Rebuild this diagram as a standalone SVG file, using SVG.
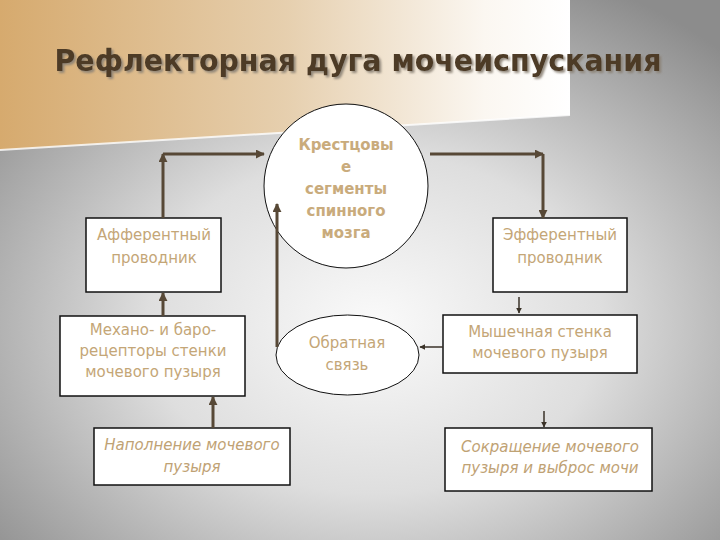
<svg xmlns="http://www.w3.org/2000/svg" width="720" height="540" viewBox="0 0 720 540">
<defs>
<radialGradient id="bg" cx="0.52" cy="0.6" r="0.7">
<stop offset="0" stop-color="#fafafa"/>
<stop offset="0.45" stop-color="#dedede"/>
<stop offset="1" stop-color="#8c8c8c"/>
</radialGradient>
<linearGradient id="band" x1="0" y1="0" x2="570" y2="0" gradientUnits="userSpaceOnUse">
<stop offset="0" stop-color="#d6aa6e"/>
<stop offset="0.5" stop-color="#e6cfae"/>
<stop offset="0.85" stop-color="#fbf7f1"/>
<stop offset="1" stop-color="#ffffff"/>
</linearGradient>
<filter id="sh" x="-5%" y="-30%" width="110%" height="160%">
<feDropShadow dx="2" dy="2" stdDeviation="0.8" flood-color="#8a8176" flood-opacity="0.9"/>
</filter>
<marker id="ah" viewBox="0 0 10 10" refX="9" refY="5" markerWidth="9" markerHeight="9" markerUnits="userSpaceOnUse" orient="auto">
<path d="M0,0 L10,5 L0,10 z" fill="#574836"/>
</marker>
<marker id="ahs" viewBox="0 0 10 10" refX="9" refY="5" markerWidth="6" markerHeight="6" markerUnits="userSpaceOnUse" orient="auto">
<path d="M0,0 L10,5 L0,10 z" fill="#3a3228"/>
</marker>
</defs>
<style>
.box{fill:#ffffff;stroke:#111111;stroke-width:1.5}
.ell{fill:#ffffff;stroke:#111111;stroke-width:1}
.t{font-family:"DejaVu Sans","Liberation Sans",sans-serif;font-size:15px;fill:#c4a677;text-anchor:middle}
.tb{font-family:"DejaVu Sans","Liberation Sans",sans-serif;font-size:15px;font-weight:bold;fill:#c9ab7c;text-anchor:middle}
.ti{font-family:"DejaVu Sans","Liberation Sans",sans-serif;font-size:15px;font-style:italic;fill:#bfa274;text-anchor:middle}
.c{fill:none;stroke:#574836;stroke-width:3}
.cs{fill:none;stroke:#3a3228;stroke-width:1.5}
</style>
<rect x="0" y="0" width="720" height="540" fill="url(#bg)"/>
<polygon points="0,0 570,0 570,115 0,150" fill="url(#band)"/>
<line x1="0" y1="150" x2="570" y2="115" stroke="#ffffff" stroke-width="2" opacity="0.8"/>
<g id="title">
<text x="358" y="71" font-family="DejaVu Sans, Liberation Sans, sans-serif" font-size="30" font-weight="bold" fill="#4d3b25" text-anchor="middle" textLength="607" lengthAdjust="spacingAndGlyphs" filter="url(#sh)">Рефлекторная дуга мочеиспускания</text>
</g>
<g id="spinal">
<circle class="ell" cx="346" cy="186" r="82"/>
<text class="tb" x="346" y="150">Крестцовы</text>
<text class="tb" x="346" y="172">е</text>
<text class="tb" x="346" y="194">сегменты</text>
<text class="tb" x="346" y="216">спинного</text>
<text class="tb" x="346" y="238">мозга</text>
</g>
<g id="afferent">
<rect class="box" x="86" y="218" width="135" height="74"/>
<text class="t" x="154" y="240">Афферентный</text>
<text class="t" x="154" y="263">проводник</text>
</g>
<g id="receptors">
<rect class="box" x="60" y="316" width="185" height="80"/>
<text class="t" x="153" y="335">Механо- и баро-</text>
<text class="t" x="153" y="356">рецепторы стенки</text>
<text class="t" x="153" y="377">мочевого пузыря</text>
</g>
<g id="filling">
<rect class="box" x="94" y="428" width="196" height="57"/>
<text class="ti" x="192" y="450">Наполнение мочевого</text>
<text class="ti" x="192" y="472">пузыря</text>
</g>
<g id="feedback">
<ellipse class="ell" cx="347.5" cy="355" rx="71.5" ry="40"/>
<text class="t" x="347" y="348">Обратная</text>
<text class="t" x="347" y="370">связь</text>
</g>
<g id="efferent">
<rect class="box" x="493" y="218" width="134" height="74"/>
<text class="t" x="560" y="240">Эфферентный</text>
<text class="t" x="560" y="263">проводник</text>
</g>
<g id="muscle">
<rect class="box" x="443" y="315" width="194" height="58"/>
<text class="t" x="540" y="337">Мышечная стенка</text>
<text class="t" x="540" y="358">мочевого пузыря</text>
</g>
<g id="contraction">
<rect class="box" x="445" y="428" width="207" height="63"/>
<text class="ti" x="550" y="452">Сокращение мочевого</text>
<text class="ti" x="550" y="473">пузыря и выброс мочи</text>
</g>
<g id="connectors">
<line class="c" x1="163" y1="316" x2="163" y2="293" marker-end="url(#ah)"/>
<line class="c" x1="163" y1="218" x2="163" y2="154" marker-end="url(#ah)"/>
<line class="c" x1="163" y1="154" x2="264" y2="154" marker-end="url(#ah)"/>
<line class="c" x1="430" y1="154" x2="543" y2="154" marker-end="url(#ah)"/>
<line class="c" x1="543" y1="154" x2="543" y2="218" marker-end="url(#ah)"/>
<line class="c" x1="277" y1="347" x2="277" y2="204" marker-end="url(#ah)"/>
<line class="c" x1="213" y1="428" x2="213" y2="397" marker-end="url(#ah)"/>
<line class="cs" x1="519" y1="297" x2="519" y2="313" marker-end="url(#ahs)"/>
<line class="cs" x1="544" y1="411" x2="544" y2="427" marker-end="url(#ahs)"/>
<line class="cs" x1="443" y1="347" x2="420" y2="347" marker-end="url(#ahs)"/>
</g>
</svg>
